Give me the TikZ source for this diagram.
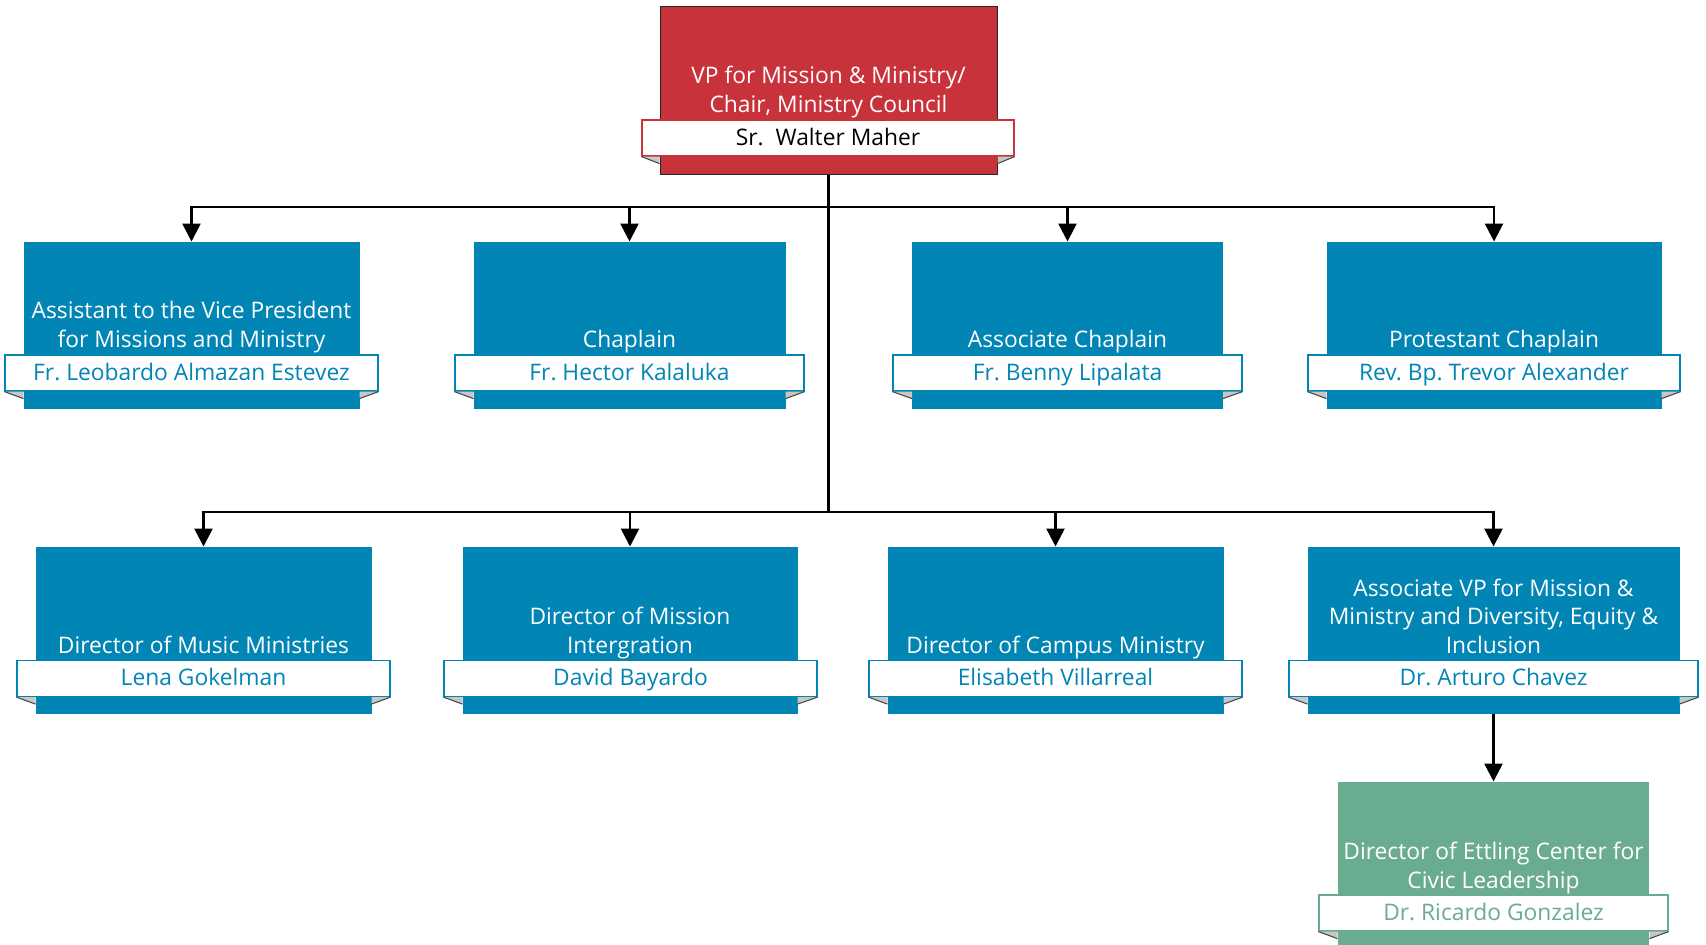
\documentclass[tikz,border=0pt]{standalone}
\usepackage{fontspec}
\setmainfont{Open Sans}
\usetikzlibrary{arrows.meta,calc}
\frenchspacing
\definecolor{vpred}{RGB}{200,50,58}
\definecolor{deptblue}{RGB}{1,133,180}
\definecolor{civicgreen}{RGB}{106,172,143}

\begin{document}
\begin{tikzpicture}[x=0.5pt,y=-0.5pt,>={Triangle[length=9pt,width=9pt]},line width=1.3pt]
    \tikzstyle{box}=[rectangle,inner sep=0pt,minimum height=83pt,line width=0.5pt]
    \tikzstyle{bluebox}=[box,fill=deptblue,draw=deptblue]
    \tikzstyle{ribbon}=[rectangle,fill=white,inner sep=0pt,minimum height=18pt,line width=0.6pt,text height=9pt,text depth=2pt,font=\fontsize{11.4}{13}\selectfont]
    \tikzstyle{blueribbon}=[ribbon,draw=deptblue,text=deptblue]
    \tikzstyle{title}=[anchor=base,align=center,text=white,inner sep=0pt,font=\fontsize{11.4}{14.25}\selectfont]
    \tikzstyle{fold}=[fill=black!22]
    \tikzstyle{foldedge}=[draw=black!75,line width=0.5pt]
    \useasboundingbox (0,0) rectangle (1706,944);

    % boxes
    \node[box,fill=vpred,draw=black!85,minimum width=168.5pt,minimum height=84pt] (B0) at (828.5,90) {};
    \node[bluebox,minimum width=167.5pt] (B1) at (191.5,325) {};
    \node[bluebox,minimum width=155.5pt] (B2) at (629.5,325) {};
    \node[bluebox,minimum width=155pt]   (B3) at (1067.5,325) {};
    \node[bluebox,minimum width=167pt]   (B4) at (1494,325) {};
    \node[bluebox,minimum width=167.5pt] (B5) at (203.5,630) {};
    \node[bluebox,minimum width=167pt]   (B6) at (630,630) {};
    \node[bluebox,minimum width=167.5pt] (B7) at (1055.5,630) {};
    \node[bluebox,minimum width=185.5pt] (B8) at (1493.5,630) {};
    \node[box,fill=civicgreen,minimum width=155.5pt] (B9) at (1493.5,865) {};

    % name ribbons
    \node[ribbon,draw=vpred,minimum width=186pt] (R0) at (828,138) {Sr.\ \ Walter Maher};
    \node[blueribbon,minimum width=186.5pt] (R1) at (191.5,373) {Fr. Leobardo Almazan Estevez};
    \node[blueribbon,minimum width=174.5pt] (R2) at (629.5,373) {Fr. Hector Kalaluka};
    \node[blueribbon,minimum width=174.5pt] (R3) at (1067.5,373) {Fr. Benny Lipalata};
    \node[blueribbon,minimum width=186pt]   (R4) at (1494,373) {Rev. Bp. Trevor Alexander};
    \node[blueribbon,minimum width=186.5pt] (R5) at (203.5,678.5) {Lena Gokelman};
    \node[blueribbon,minimum width=186.5pt] (R6) at (630.5,678.5) {David Bayardo};
    \node[blueribbon,minimum width=186.5pt] (R7) at (1055.5,678.5) {Elisabeth Villarreal};
    \node[blueribbon,minimum width=204.5pt] (R8) at (1493.5,678.5) {Dr. Arturo Chavez};
    \node[ribbon,draw=civicgreen,text=civicgreen,minimum width=174.5pt] (R9) at (1493.5,913) {Dr. Ricardo Gonzalez};

    % folded ribbon ends
    \foreach \b in {0,...,9} {
        \fill[fold] (R\b.south west) -- (B\b.west |- R\b.south) -- ($(B\b.west |- R\b.south)+(0,7)$) -- cycle;
        \fill[fold] (R\b.south east) -- (B\b.east |- R\b.south) -- ($(B\b.east |- R\b.south)+(0,7)$) -- cycle;
        \draw[foldedge] (R\b.south west) -- ($(B\b.west |- R\b.south)+(0,7)$);
        \draw[foldedge] (R\b.south east) -- ($(B\b.east |- R\b.south)+(0,7)$);
    }

    % titles
    \node[title] (T0) at (828.5,112) {VP for Mission \& Ministry/\\Chair, Ministry Council};
    \node[title] (T1) at (191.5,347) {Assistant to the Vice President\\for Missions and Ministry};
    \node[title] (T2) at (629.5,347) {Chaplain};
    \node[title] (T3) at (1067.5,347) {Associate Chaplain};
    \node[title] (T4) at (1494,347) {Protestant Chaplain};
    \node[title] (T5) at (203.5,653) {Director of Music Ministries};
    \node[title] (T6) at (630,653) {Director of Mission\\Intergration};
    \node[title] (T7) at (1055.5,653) {Director of Campus Ministry};
    \node[title] (T8) at (1493.5,653) {Associate VP for Mission \&\\Ministry and Diversity, Equity \&\\Inclusion};
    \node[title] (T9) at (1493.5,888) {Director of Ettling Center for\\Civic Leadership};

    % connectors
    \coordinate (J1) at (828.5,207);
    \coordinate (J2) at (828.5,512);
    \draw (B0.south) -- (J2);
    \draw[->] (J1) -| (B1);
    \draw[->] (J1) -| (B2);
    \draw[->] (J1) -| (B3);
    \draw[->] (J1) -| (B4);
    \draw[->] (J2) -| (B5);
    \draw[->] (J2) -| (B6);
    \draw[->] (J2) -| (B7);
    \draw[->] (J2) -| (B8);
    \draw[->] (B8) -- (B9);
\end{tikzpicture}
\end{document}
